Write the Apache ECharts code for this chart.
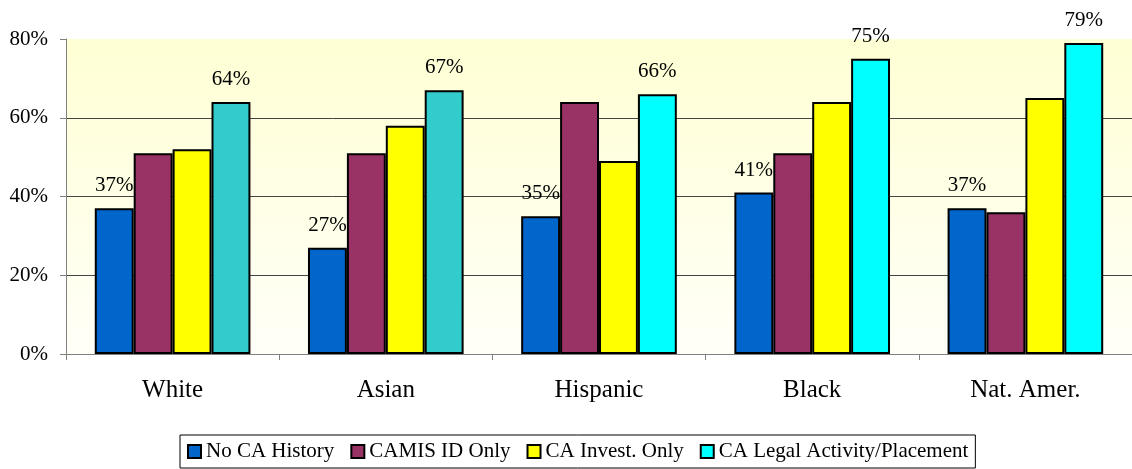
<!DOCTYPE html>
<html>
<head>
<meta charset="utf-8">
<script src="https://cdn.jsdelivr.net/npm/echarts@6/dist/echarts.min.js"></script>
<style>
  html, body { margin: 0; padding: 0; background: #fff; }
  #main { width: 1132px; height: 469px; }
</style>
</head>
<body>
<div id="main"></div>
<script>
// 分类和数据
var categories = ['White', 'Asian', 'Hispanic', 'Black', 'Nat. Amer.'];
var seriesNames = ['No CA History', 'CAMIS ID Only', 'CA Invest. Only', 'CA Legal Activity/Placement'];
var noHistory = [37, 27, 35, 41, 37];
var camisOnly = [51, 51, 64, 51, 36];
var investOnly = [52, 58, 49, 64, 65];
var legalActivity = [64, 67, 66, 75, 79];
var yTicks = [0, 20, 40, 60, 80];

var colors = ['#0066CC', '#993366', '#FFFF00', '#00FFFF'];
var serif = '"Liberation Serif", "Times New Roman", serif';

var myChart = echarts.init(document.getElementById('main'));

function makeSeries(name, values, color, withLabel) {
	return {
		name: name,
		type: 'bar',
		barGap: '0%',
		barCategoryGap: '27%',
		itemStyle: {
			color: color,
			borderColor: '#000',
			borderWidth: 2
		},
		label: {
			show: withLabel,
			position: 'top',
			distance: 12,
			formatter: '{c}%',
			color: '#000',
			fontFamily: serif,
			fontSize: 21
		},
		data: values
	};
}

// 白人和亚裔的第四根柱子颜色更深
var legalData = legalActivity.map(function(v, i) {
	return i < 2 ? { value: v, itemStyle: { color: '#33CCCC' } } : v;
});

var option = {
	animation: false,
	backgroundColor: '#fff',
	color: colors,
	grid: {
		left: 66,
		right: 0,
		top: 39,
		bottom: 115,
		show: true,
		borderWidth: 0,
		backgroundColor: new echarts.graphic.LinearGradient(0, 0, 0, 1, [
			{ offset: 0, color: '#FFFFD4' },
			{ offset: 1, color: '#FFFFF8' }
		])
	},
	legend: {
		data: seriesNames,
		bottom: 1,
		left: 180,
		itemWidth: 13,
		itemHeight: 13,
		itemGap: 16,
		icon: 'rect',
		borderColor: '#000',
		borderWidth: 1,
		padding: [6, 7],
		itemStyle: { borderColor: '#000', borderWidth: 2 },
		textStyle: { fontFamily: serif, fontSize: 21, color: '#000' }
	},
	xAxis: {
		type: 'category',
		data: categories,
		axisLine: { lineStyle: { color: '#808080', width: 1 } },
		axisTick: { show: true, inside: false, length: 6, lineStyle: { color: '#808080' } },
		axisLabel: { fontFamily: serif, fontSize: 25, color: '#000', margin: 24 }
	},
	yAxis: {
		type: 'value',
		min: yTicks[0],
		max: yTicks[yTicks.length - 1],
		interval: 20,
		axisLine: { show: true, lineStyle: { color: '#808080', width: 1 } },
		axisTick: { show: true, length: 6, lineStyle: { color: '#808080' } },
		axisLabel: { fontFamily: serif, fontSize: 21, color: '#000', margin: 18, formatter: '{value}%' },
		splitLine: { showMaxLine: false, lineStyle: { color: '#444', width: 1 } }
	},
	series: [
		makeSeries(seriesNames[0], noHistory, colors[0], true),
		makeSeries(seriesNames[1], camisOnly, colors[1], false),
		makeSeries(seriesNames[2], investOnly, colors[2], false),
		makeSeries(seriesNames[3], legalData, colors[3], true)
	]
};

myChart.setOption(option);
</script>
</body>
</html>
